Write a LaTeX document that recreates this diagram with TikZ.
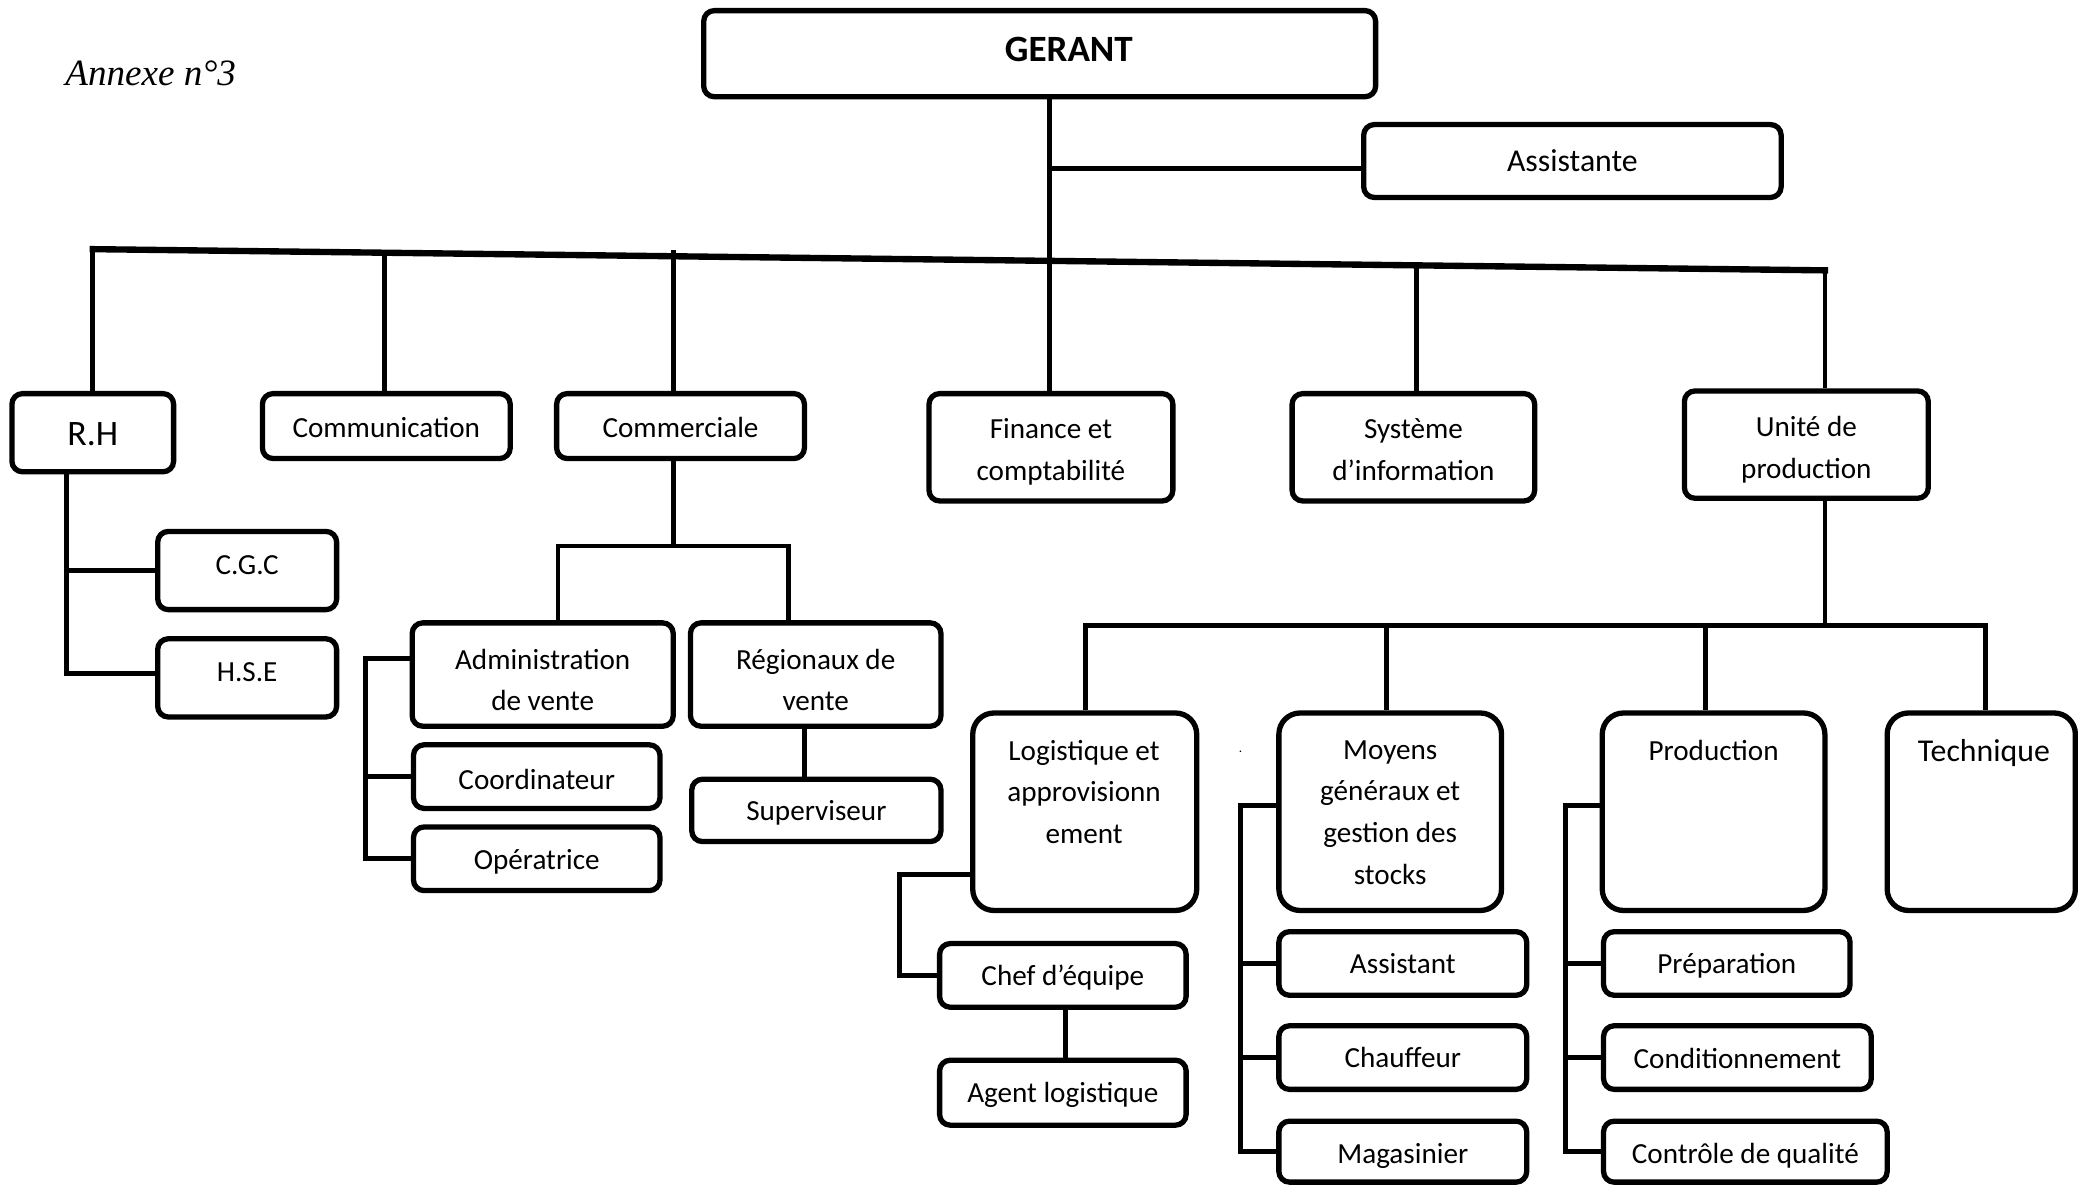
\documentclass[tikz,border=0pt]{standalone}
\usepackage{fontspec}
\setmainfont{Carlito}
\newfontfamily\tnr{Liberation Serif}
\usetikzlibrary{calc}
\tikzset{
  box/.style={draw, line width=2pt, rounded corners=4pt, inner sep=0pt},
  tallbox/.style={box, rounded corners=8pt},
  txt/.style={align=center, inner sep=0pt, font=\fontsize{11}{15.7}\selectfont},
  conn/.style={line width=1.8pt, line join=miter},
  bus/.style={line width=2.4pt, line cap=rect}
}
% [text style]{name}{x1}{y1}{x2}{y2}{text}{text shift}
\newcommand\mybox[8][]{%
  \pgfmathsetmacro\bxw{(#5-#3)*0.5}%
  \pgfmathsetmacro\bxh{(#6-#4)*0.5}%
  \node[box,minimum width=\bxw pt,minimum height=\bxh pt] (#2) at ({(#3+#5)/2},{(#4+#6)/2}) {};
  \node[txt,#1] (#2t) at ($(#2.center)+(0,#8)$) {#7};}
\newcommand\mytall[5]{%
  \pgfmathsetmacro\bxw{(#4-#2)*0.5}%
  \pgfmathsetmacro\bxh{(#5-#3)*0.5}%
  \node[tallbox,minimum width=\bxw pt,minimum height=\bxh pt] (#1) at ({(#2+#4)/2},{(#3+#5)/2}) {};}
\begin{document}
\begin{tikzpicture}[x=0.5pt,y=-0.5pt]
\useasboundingbox (0,0) rectangle (1568,894);
% title
\node[anchor=west, inner sep=0pt, font=\tnr\itshape\fontsize{14}{16}\selectfont] (annexe) at (49,55) {Annexe n°3};
% top
\mybox[font=\fontsize{14}{16}\selectfont\bfseries, xshift=11pt]{gerant}{531}{8}{1038}{73}{GERANT}{-3.5}
\mybox[font=\fontsize{12}{15}\selectfont]{assist}{1029}{94}{1344}{149}{Assistante}{0}
% row 1
\mybox[font=\fontsize{13.5}{15}\selectfont]{rh}{9}{297}{131}{356}{R.H}{1}
\mybox{comm}{198}{297}{385}{346}{Communication}{1}
\mybox{cial}{420}{297}{607}{346}{Commerciale}{1}
\mybox{fin}{701}{297}{885}{378}{Finance et\\comptabilité}{3.5}
\mybox{sys}{975}{297}{1158}{378}{Système\\d’information}{2}
\mybox{unite}{1271}{295}{1455}{376}{Unité de\\production}{4}
% RH children
\mybox{cgc}{119}{401}{254}{460}{C.G.C}{-4}
\mybox{hse}{119}{482}{254}{541}{H.S.E}{-4}
% commerciale children
\mybox{admin}{311}{470}{508}{548}{Administration\\de vente}{4}
\mybox{reg}{521}{470}{710}{548}{Régionaux de\\vente}{4}
\mybox{sup}{522}{588}{710}{635}{Superviseur}{2}
\mybox{coord}{312}{562}{498}{610}{Coordinateur}{2}
\mybox{opr}{312}{624}{498}{672}{Opératrice}{2}
% unite children
\mytall{log}{734}{538}{903}{687}
\node[txt] (logt) at (818,597.5) {Logistique et\\approvisionn\\ement};
\mytall{moy}{965}{538}{1133}{687}
\node[txt] (moyt) at (1049,613) {Moyens\\généraux et\\gestion des\\stocks};
\mytall{prod}{1209}{538}{1377}{687}
\node[txt] (prodt) at (1293,566) {Production};
\mytall{tech}{1424}{538}{1566}{687}
\node[txt, font=\fontsize{12}{15}\selectfont] (techt) at (1497,568) {Technique};
\node[inner sep=0pt, font=\fontsize{5}{5}\selectfont] (dot) at (936,567) {.};
% logistique children
\mybox{chef}{709}{712}{895}{760}{Chef d’équipe}{2}
\mybox{agent}{709}{800}{895}{849}{Agent logistique}{2}
% moyens children
\mybox{asst}{965}{703}{1152}{751}{Assistant}{0}
\mybox{chauf}{965}{774}{1152}{822}{Chauffeur}{0}
\mybox{mag}{965}{846}{1152}{892}{Magasinier}{3}
% production children
\mybox{prep}{1210}{703}{1396}{751}{Préparation}{2}
\mybox{cond}{1210}{774}{1412}{822}{Conditionnement}{1}
\mybox{ctrl}{1210}{846}{1424}{892}{Contrôle de qualité}{3}
% coordinates
\coordinate (gj) at (792,73);
\coordinate (aj) at (792,127);
\coordinate (busL) at (70,188);
\coordinate (busR) at (1377,204);
\coordinate (jComm) at (290,190.7);
\coordinate (jCial) at (508,189);
\coordinate (jSys) at (1069,200.2);
\coordinate (rhr) at (50,508);
\coordinate (cj) at (508,412);
\coordinate (cl) at (421,412);
\coordinate (cr) at (595,412);
\coordinate (sj) at (607,568);
\coordinate (ar1) at (276,497);
\coordinate (uj) at (1377,472);
\coordinate (u1) at (819,472);
\coordinate (u2) at (1046,472);
\coordinate (u3) at (1287,472);
\coordinate (u4) at (1498,472);
\coordinate (lr) at (679,660);
\coordinate (lj) at (804,780);
\coordinate (mr) at (936,608);
\coordinate (pr) at (1181,608);
% connectors top
\draw[conn] (gj) -- (gj |- fin.north);
\draw[conn] (aj) -- (aj -| assist.west);
\draw[bus] (busL) -- (busR);
\draw[conn] (busL) -- (busL |- rh.north);
\draw[conn] (jComm) -- (jComm |- comm.north);
\draw[conn] (jCial) -- (jCial |- cial.north);
\draw[conn] (jSys) -- (jSys |- sys.north);
\draw[conn] (busR) -- (busR |- unite.north);
% RH
\draw[conn] (rhr |- rh.south) -- (rhr) -- (rhr -| hse.west);
\draw[conn] (rhr |- cgc.west) -- (cgc.west);
% commerciale
\draw[conn] (cj |- cial.south) -- (cj);
\draw[conn] (cl |- admin.north) -- (cl) -- (cr) -- (cr |- reg.north);
\draw[conn] (sj |- reg.south) -- (sj |- sup.north);
\draw[conn] (ar1 -| admin.west) -- (ar1) -- (ar1 |- opr.west) -- (opr.west);
\draw[conn] (ar1 |- coord.west) -- (coord.west);
% unite
\draw[conn] (uj |- unite.south) -- (uj);
\draw[conn] (u1 |- log.north) -- (u1) -- (u4) -- (u4 |- tech.north);
\draw[conn] (u2) -- (u2 |- moy.north);
\draw[conn] (u3) -- (u3 |- prod.north);
% logistique
\draw[conn] (lr -| log.west) -- (lr) -- (lr |- chef.west) -- (chef.west);
\draw[conn] (lj |- chef.south) -- (lj |- agent.north);
% moyens
\draw[conn] (mr -| moy.west) -- (mr) -- (mr |- mag.west) -- (mag.west);
\draw[conn] (mr |- asst.west) -- (asst.west);
\draw[conn] (mr |- chauf.west) -- (chauf.west);
% production
\draw[conn] (pr -| prod.west) -- (pr) -- (pr |- ctrl.west) -- (ctrl.west);
\draw[conn] (pr |- prep.west) -- (prep.west);
\draw[conn] (pr |- cond.west) -- (cond.west);
\end{tikzpicture}
\end{document}
